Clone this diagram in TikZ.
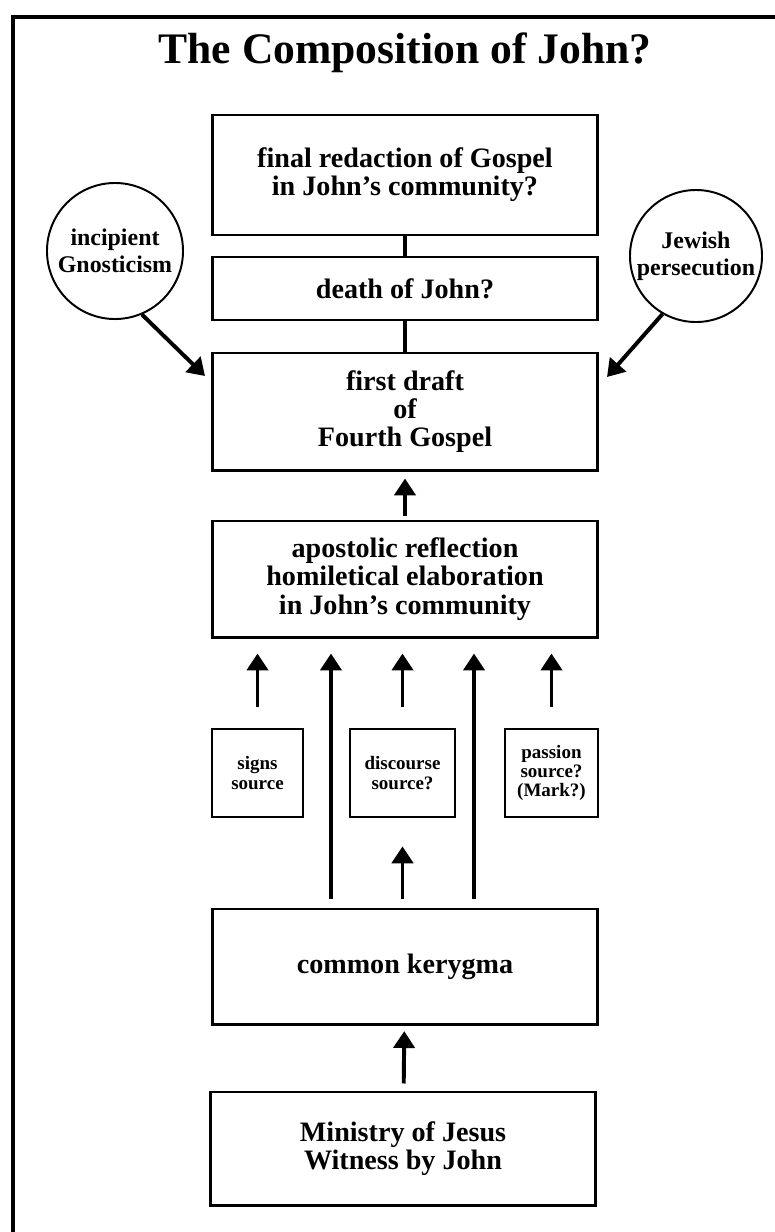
\documentclass[tikz,border=0pt]{standalone}
\usepackage{fontspec}
\setmainfont{Liberation Serif}
\usetikzlibrary{arrows.meta}
\newcommand\titlefont{\fontsize{31}{31}\selectfont\bfseries}
\newcommand\boxfont{\fontsize{20}{20}\selectfont\bfseries}
\newcommand\inflfont{\fontsize{17}{19.5}\selectfont\bfseries}
\newcommand\srcfont{\fontsize{13.5}{13.8}\selectfont\bfseries}
\tikzset{
  box/.style={draw, line width=2.1pt, align=center, font=\boxfont, inner sep=0pt, minimum width=9.625cm},
  srcbox/.style={draw, line width=1.8pt, align=center, font=\srcfont, inner sep=0pt, minimum height=2.2cm},
  infl/.style={draw, circle, line width=1.4pt, align=center, font=\inflfont, inner sep=0pt},
  link/.style={line width=2.6pt},
  up/.style={line width=2.8pt, -{Triangle[width=15pt,length=12pt]}},
}
\begin{document}
\begin{tikzpicture}[x=0.025cm, y=-0.025cm]
    \useasboundingbox (0,0) rectangle (775,1232);
    \fill[white] (0,0) rectangle (775,1232);
    \draw[line width=3.5pt] (13,17) rectangle (800,1260);
    \node[font=\titlefont, anchor=base] (title) at (405,63) {The Composition of John?};
    % main column
    \node[box, minimum height=3cm] (redact) at (405,175) {final redaction of Gospel\\in John’s community?};
    \node[box, minimum height=1.575cm] (death) at (405,288.5) {death of John?};
    \node[box, minimum height=2.925cm] (draft) at (405,411.5) {first draft\\of\\Fourth Gospel};
    \node[box, minimum height=2.9cm] (reflect) at (405,579) {apostolic reflection\\homiletical elaboration\\in John’s community};
    \node[box, minimum height=2.875cm] (kerygma) at (405,966.5) {common kerygma};
    \node[box, minimum width=9.6cm, minimum height=2.825cm] (ministry) at (403,1148.5) {Ministry of Jesus\\Witness by John};
    % influences
    \node[infl, minimum size=3.4cm] (gnost) at (115,251) {incipient\\Gnosticism};
    \node[infl, minimum size=3.3cm] (jewish) at (696,256) {Jewish\\persecution};
    % sources
    \node[srcbox, minimum width=2.275cm] (signs) at (257.5,773) {signs\\source};
    \node[srcbox, minimum width=2.625cm] (disc) at (402.5,773) {discourse\\source?};
    \node[srcbox, minimum width=2.325cm] (passion) at (551.5,773) {passion\\source?\\(Mark?)};
    \coordinate (gtip) at (205,376);
    \coordinate (jtip) at (607,377);
    \draw[link] (redact) -- (death);
    \draw[link] (death) -- (draft);
    \draw[up] (gnost.-67) -- (gtip);
    \draw[up] (jewish.-120) -- (jtip);
    \draw[up, shorten <=2.8pt, shorten >=5pt] (reflect) -- (draft);
    \draw[up, shorten <=15pt, shorten >=10.7pt] (signs.north) -- (signs.north |- reflect.south);
    \draw[up, shorten <=15pt, shorten >=10.7pt] (disc.north) -- (disc.north |- reflect.south);
    \draw[up, shorten <=15pt, shorten >=10.7pt] (passion.north) -- (passion.north |- reflect.south);
    \draw[up, shorten <=6.4pt, shorten >=10.7pt] ([xshift=-1.85cm]kerygma.north) -- ([xshift=-1.85cm]kerygma.north |- reflect.south);
    \draw[up, shorten <=6.4pt, shorten >=10.7pt] ([xshift=1.725cm]kerygma.north) -- ([xshift=1.725cm]kerygma.north |- reflect.south);
    \draw[up, shorten <=6.4pt, shorten >=20pt] (disc.south |- kerygma.north) -- (disc.south);
    \draw[up, shorten <=5pt, shorten >=4pt] (ministry) -- (kerygma);
\end{tikzpicture}
\end{document}
